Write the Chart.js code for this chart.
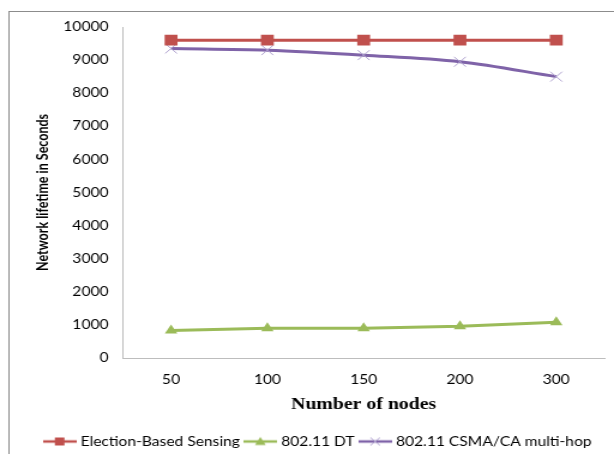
<!DOCTYPE html>
<html>
<head>
<meta charset="utf-8">
<script src="https://cdn.jsdelivr.net/npm/chart.js@4/dist/chart.umd.min.js"></script>
<style>
  html, body { margin: 0; padding: 0; background: #fff; overflow: hidden; }
  #wrap {
    position: absolute; left: 0; top: 0;
    width: 512px; height: 454px;
    transform: scaleX(1.19922); transform-origin: 0 0;
  }
</style>
</head>
<body>
<div id="wrap"><canvas id="chart"></canvas></div>
<script>
const nodeCounts = ['50', '100', '150', '200', '300'];
const electionSensing = [9600, 9600, 9600, 9600, 9600];
const dt80211 = [830, 900, 900, 960, 1080];
const csmaMultiHop = [9350, 9300, 9150, 8950, 8500];

const RED = '#C0504D', GREEN = '#9BBB59', PURPLE = '#7F63A8', PURPLE_MARK = '#AFA2CF';
const AXIS = '#BDBDBD';

// Legend swatch: a short line with the series marker in its middle
function swatch(color, markColor, style) {
  const c = document.createElement('canvas');
  c.width = 28; c.height = 14;
  const g = c.getContext('2d');
  g.strokeStyle = color; g.lineWidth = 2.5;
  g.beginPath(); g.moveTo(0, 7); g.lineTo(28, 7); g.stroke();
  g.fillStyle = markColor; g.strokeStyle = markColor;
  g.beginPath();
  if (style === 'rect') { g.fillRect(10, 3, 8, 8); }
  else if (style === 'triangle') { g.moveTo(14, 2.5); g.lineTo(18.5, 10.5); g.lineTo(9.5, 10.5); g.closePath(); g.fill(); }
  else { g.lineWidth = 1; g.moveTo(10, 3); g.lineTo(18, 11); g.moveTo(18, 3); g.lineTo(10, 11); g.stroke(); }
  return c;
}

// Thin frame around the whole figure
const frame = {
  id: 'frame',
  beforeDraw(chart) {
    const ctx = chart.ctx;
    ctx.save();
    ctx.strokeStyle = '#8C8C8C';
    ctx.lineWidth = 1;
    ctx.strokeRect(7.5, 11.5, 600, 500);
    ctx.restore();
  }
};

const swatches = [
  swatch(RED, RED, 'rect'),
  swatch(GREEN, GREEN, 'triangle'),
  swatch(PURPLE, PURPLE_MARK, 'crossRot')
];

new Chart(document.getElementById('chart'), {
  type: 'line',
  data: {
    labels: nodeCounts,
    datasets: [
      {
        label: 'Election-Based Sensing',
        data: electionSensing,
        borderColor: RED, backgroundColor: RED,
        borderWidth: 3, pointStyle: 'rect', pointRadius: 7.6,
        pointBorderWidth: 0, tension: 0
      },
      {
        label: '802.11 DT',
        data: dt80211,
        borderColor: GREEN, backgroundColor: GREEN,
        borderWidth: 3, pointStyle: 'triangle', pointRadius: 6,
        pointBorderWidth: 0, tension: 0
      },
      {
        label: '802.11 CSMA/CA multi-hop',
        data: csmaMultiHop,
        borderColor: PURPLE, backgroundColor: PURPLE_MARK,
        pointBorderColor: PURPLE_MARK,
        borderWidth: 3, pointStyle: 'crossRot', pointRadius: 7,
        pointBorderWidth: 1, cubicInterpolationMode: 'monotone'
      }
    ]
  },
  options: {
    responsive: true,
    maintainAspectRatio: false,
    animation: false,
    layout: { padding: { left: 27, right: 7, top: 27, bottom: -4 } },
    plugins: {
      tooltip: { enabled: false },
      legend: {
        position: 'bottom',
        labels: {
          usePointStyle: true,
          pointStyleWidth: 22,
          padding: 6,
          color: '#000',
          font: { family: 'Lato', size: 13 },
          generateLabels(chart) {
            return chart.data.datasets.map((ds, i) => ({
              text: ds.label,
              pointStyle: swatches[i],
              fillStyle: ds.borderColor,
              strokeStyle: ds.borderColor,
              lineWidth: 0,
              hidden: false,
              datasetIndex: i,
              fontColor: '#000'
            }));
          }
        }
      }
    },
    scales: {
      x: {
        offset: true,
        grid: { display: false, drawTicks: false },
        border: { display: true, color: AXIS, width: 1 },
        ticks: { color: '#000', padding: 14, font: { family: 'Lato', size: 13 } },
        title: {
          display: true, text: 'Number of nodes', color: '#000',
          font: { family: 'Liberation Serif', size: 16.5, weight: 'bold' },
          padding: { top: 0, bottom: 14 }
        },
        afterFit(scale) { scale.height = 71; }
      },
      y: {
        min: 0, max: 10000,
        grid: { display: false, drawTicks: false },
        border: { display: true, color: AXIS, width: 1 },
        ticks: {
          stepSize: 1000, color: '#000', padding: 12,
          font: { family: 'Lato', size: 13 },
          callback: (v) => String(v)
        },
        title: {
          display: true, text: 'Network lifetime in Seconds', color: '#000',
          font: { family: 'Lato', size: 12.5, weight: 'bold' },
          padding: { top: 1, bottom: 0 }
        },
        afterFit(scale) { scale.width = 75.5; }
      }
    }
  },
  plugins: [frame]
});
</script>
</body>
</html>
